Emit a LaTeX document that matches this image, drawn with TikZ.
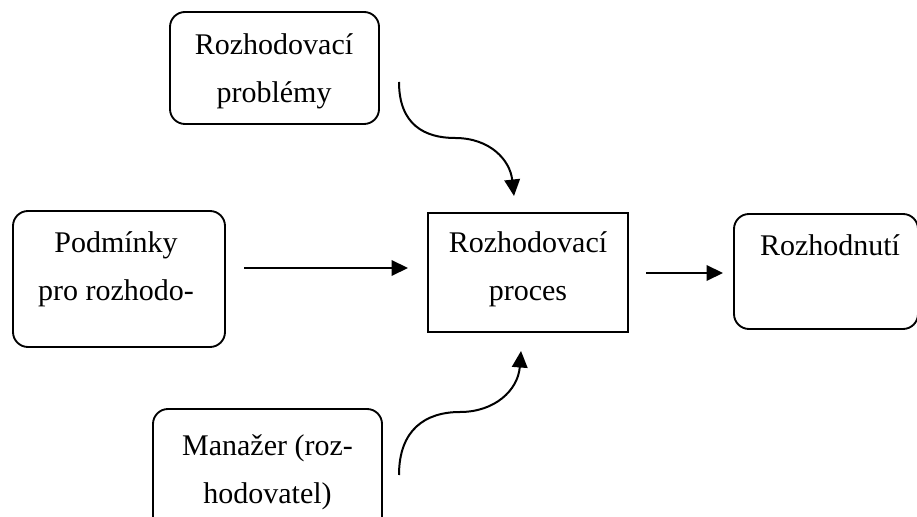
\documentclass[tikz,border=0pt]{standalone}
\usepackage{fontspec}
\setmainfont{Liberation Serif}
\usepackage{tikz}
\usetikzlibrary{arrows.meta}

\begin{document}
\begin{tikzpicture}[x=0.4pt, y=-0.4pt,
		softbox/.style={draw, line width=0.75pt, rounded corners=6pt, inner sep=0pt},
		hardbox/.style={draw, line width=0.75pt, inner sep=0pt},
		boxtext/.style={anchor=base, align=center, inner sep=0pt, font=\fontsize{12}{19.2}\selectfont},
		flow/.style={line width=0.8pt, -{Triangle[length=6.6pt, width=6.2pt]}}]
		\useasboundingbox (0, 0) rectangle (917, 517);
		% Boxes:
		\node[softbox, minimum width=83.6pt, minimum height=44.8pt] (probl) at (274.5, 68) {};
		\node[softbox, minimum width=84.8pt, minimum height=54.4pt] (podm) at (119, 279) {};
		\node[hardbox, minimum width=80pt, minimum height=47.6pt] (proces) at (528, 272.5) {};
		\node[softbox, minimum width=73.6pt, minimum height=46pt] (rozh) at (826, 271.5) {};
		\node[softbox, minimum width=91.6pt, minimum height=54.4pt] (manaz) at (267.5, 477) {};
		% Texts (base = last line):
		\node[boxtext] (probl-t) at (274, 103) {Rozhodovací\\problémy};
		\node[boxtext] (podm-t) at (116, 301) {Podmínky\\pro rozhodo-};
		\node[boxtext] (proces-t) at (528, 301) {Rozhodovací\\proces};
		\node[boxtext] (rozh-t) at (830, 256) {Rozhodnutí};
		\node[boxtext] (manaz-t) at (267.5, 503) {Manažer (roz-\\hodovatel)};
		% Connector ends:
		\coordinate (podm-out) at (244, 268);
		\coordinate (proces-in) at (408, 268);
		\coordinate (proces-out) at (646, 273);
		\coordinate (rozh-in) at (723, 273);
		\coordinate (probl-out) at (399, 82);
		\coordinate (proces-top) at (514, 196);
		\coordinate (manaz-out) at (399, 475);
		\coordinate (proces-bot) at (521, 351);
		% Arrows:
		\draw[flow] (podm-out) -- (proces-in);
		\draw[flow] (proces-out) -- (rozh-in);
		\draw[flow] (probl-out) .. controls (399, 125) and (425, 138) .. (455, 138) .. controls (490, 138) and (510, 160) .. (proces-top);
		\draw[flow] (manaz-out) .. controls (399, 430) and (425, 412) .. (460, 412) .. controls (495, 412) and (518, 390) .. (proces-bot);
	\end{tikzpicture}
\end{document}
